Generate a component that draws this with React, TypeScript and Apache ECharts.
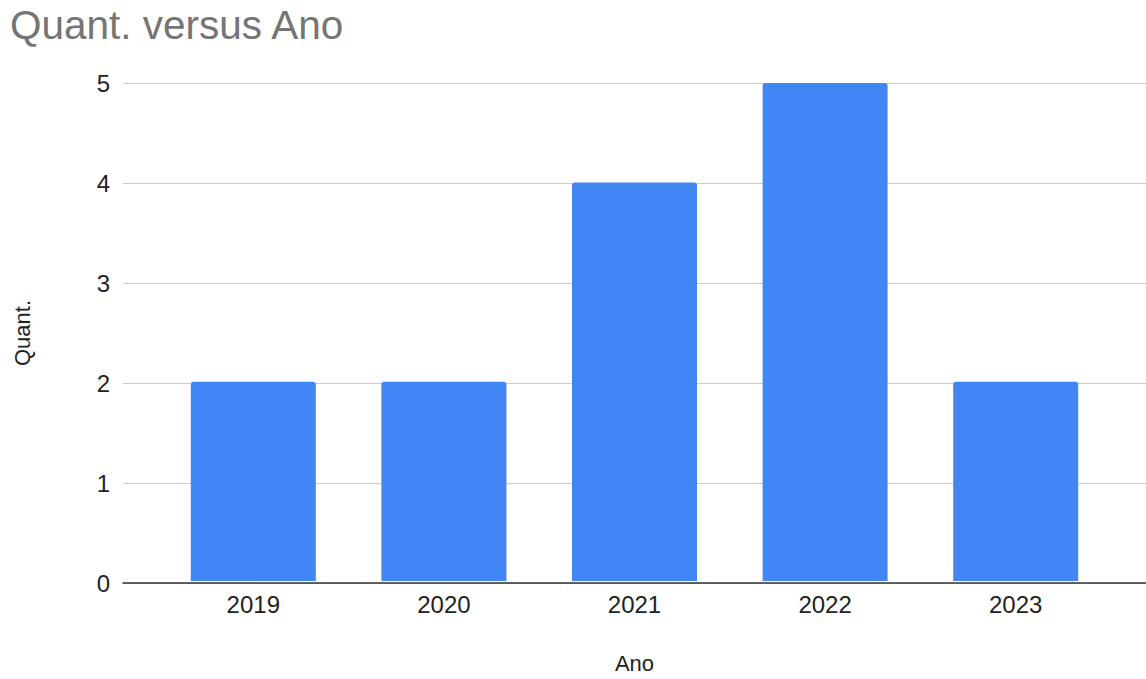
import React, { useEffect, useRef } from "react";
import * as echarts from "echarts";

const years = ["2019", "2020", "2021", "2022", "2023"];
const quant = [2, 2, 4, 5, 2];
const yTicks = [0, 1, 2, 3, 4, 5];

const FONT = "'Liberation Sans', Arial, sans-serif";

export default function App() {
  const ref = useRef<HTMLDivElement>(null);
  useEffect(() => {
    if (!ref.current) return;
    const chart = echarts.init(ref.current, null, { renderer: "svg" });
    chart.setOption({
      animation: false,
      backgroundColor: "#ffffff",
      textStyle: { fontFamily: FONT },
      title: {
        text: "Quant. versus Ano",
        left: 5,
        top: -1,
        textStyle: { fontFamily: FONT, fontSize: 40.5, fontWeight: "normal", color: "#757575" },
      },
      grid: [
        { left: 158, right: 35, top: 83, bottom: 96 },
        { left: 123, right: 0, top: 83, bottom: 96 },
      ],
      xAxis: [
        {
          type: "category",
          gridIndex: 0,
          data: years,
          axisLine: { show: false },
          axisTick: { show: false },
          axisLabel: { color: "#222", fontSize: 24, margin: 11, fontFamily: FONT },
          name: "Ano",
          nameLocation: "middle",
          nameGap: 71,
          nameTextStyle: { color: "#222", fontSize: 22, fontFamily: FONT },
        },
        {
          type: "category",
          gridIndex: 1,
          data: years,
          z: 10,
          axisLine: { show: true, lineStyle: { color: "#333", width: 1.5 } },
          axisTick: { show: false },
          axisLabel: { show: false },
        },
      ],
      yAxis: [
        {
          type: "value",
          gridIndex: 0,
          min: yTicks[0],
          max: yTicks[yTicks.length - 1],
          interval: 1,
          axisLabel: { show: false },
          splitLine: { show: false },
          axisLine: { show: false },
          axisTick: { show: false },
        },
        {
          type: "value",
          gridIndex: 1,
          min: yTicks[0],
          max: yTicks[yTicks.length - 1],
          interval: 1,
          axisLine: { show: false },
          axisTick: { show: false },
          axisLabel: { color: "#222", fontSize: 24, margin: 13, fontFamily: FONT },
          splitLine: { show: true, lineStyle: { color: "#cccccc", width: 1 } },
          name: "Quant.",
          nameLocation: "middle",
          nameGap: 90,
          nameRotate: 90,
          nameTextStyle: { color: "#222", fontSize: 22, fontFamily: FONT },
        },
      ],
      series: [
        {
          type: "bar",
          xAxisIndex: 0,
          yAxisIndex: 0,
          data: quant,
          barWidth: 125,
          itemStyle: { color: "#4285F4", borderRadius: [3, 3, 0, 0], borderWidth: 0 },
          z: 3,
        },
      ],
    });
    return () => chart.dispose();
  }, []);
  return (
    <div
      ref={ref}
      style={{ position: "fixed", left: 0, top: 0, width: 1146, height: 679 }}
    />
  );
}
